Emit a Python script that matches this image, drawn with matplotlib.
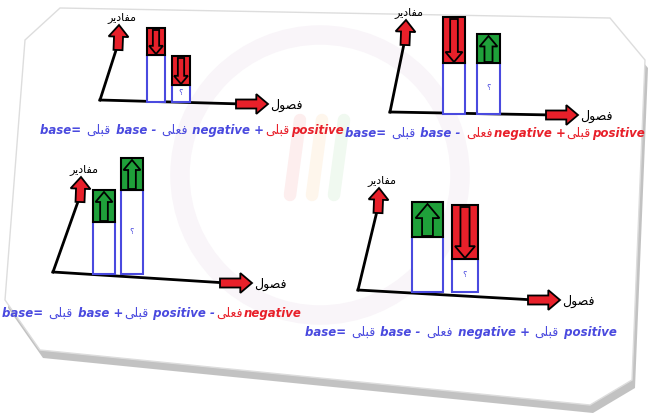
import matplotlib.pyplot as plt
from matplotlib.patches import Polygon, FancyArrow, Circle
import numpy as np

# Arabic words, shaped presentation forms in visual (left-to-right) order
MAQADIR = "\uFEAE\uFEF3\uFEA9\uFE8E\uFED4\uFEE3"   # مقادير
FOSUL = "\uFEDD\uFEEE\uFEBC\uFED3"                # فصول
QABLI = "\uFEF0\uFEE0\uFE92\uFED7"                # قبلى
FELI = "\uFEF0\uFEE0\uFECC\uFED3"                 # فعلى
AR_WORDS = {QABLI, FELI}

BLUE = "#4a4adf"
RED = "#e8202a"
GREEN = "#1fa03a"

# panel origin (x, y), y-axis top, x-axis end
origins = [(100, 100), (390, 112), (53, 272), (358, 290)]
yaxis_tops = [(118, 30), (405, 25), (80, 182), (378, 193)]
xaxis_ends = [(268, 104), (578, 115), (252, 283), (560, 300)]

# bars: left x, width, base top, change top, sign (+1 up / -1 down)
bar_left = [[147, 172], [443, 477], [93, 121], [412, 452]]
bar_width = [[18, 18], [22, 23], [22, 22], [31, 26]]
base_top = [[55, 85], [63, 63], [222, 190], [237, 259]]
change_top = [[28, 56], [17, 34], [190, 158], [202, 205]]
change_sign = [[-1, -1], [-1, 1], [1, 1], [1, -1]]
qmark_bar = [1, 1, 1, 1]

# formula lines: (text, colour) segments in visual order
formulas = [
    [("base= ", BLUE), (QABLI, BLUE), (" base - ", BLUE), (FELI, BLUE), (" negative +", BLUE),
     (QABLI, RED), ("positive", RED)],
    [("base= ", BLUE), (QABLI, BLUE), (" base - ", BLUE), (FELI, RED), ("negative +", RED),
     (QABLI, RED), ("positive", RED)],
    [("base= ", BLUE), (QABLI, BLUE), (" base +", BLUE), (QABLI, BLUE), (" positive -", BLUE),
     (FELI, RED), ("negative", RED)],
    [("base= ", BLUE), (QABLI, BLUE), (" base - ", BLUE), (FELI, BLUE), (" negative + ", BLUE),
     (QABLI, BLUE), (" positive", BLUE)],
]
formula_pos = [(40, 130), (345, 133), (2, 313), (305, 332)]

fig = plt.figure(figsize=(6.48, 4.19), dpi=100)
ax = fig.add_axes([0, 0, 1, 1])
ax.set_xlim(0, 648)
ax.set_ylim(419, 0)
ax.axis("off")

# card shadow and card
card = np.array([(60, 8), (610, 18), (645, 60), (632, 380), (590, 405), (40, 350), (5, 300), (25, 40)])
ax.add_patch(Polygon(card + [3, 8], closed=True, fc="#9a9a9a", ec="none", alpha=0.6, zorder=0))
ax.add_patch(Polygon(card, closed=True, fc="white", ec="#dddddd", lw=1, zorder=1))
# faint watermark
ax.add_patch(Circle((320, 175), 140, fc="none", ec="#f9f5f9", lw=14, zorder=1))
for i, c in enumerate(["#fdeeee", "#fef6ec", "#f0f9f0"]):
    ax.plot([290 + 22 * i, 300 + 22 * i], [195, 120], color=c, lw=9, solid_capstyle="round", zorder=1)


def fat_arrow(x0, y0, x1, y1, w=8, fc=RED, z=5):
    ax.add_patch(FancyArrow(x0, y0, x1 - x0, y1 - y0, width=w, head_width=w * 2.2,
                            head_length=w * 1.3, length_includes_head=True,
                            fc=fc, ec="black", lw=1.3, zorder=z))


for p in range(4):
    ox, oy = origins[p]
    tx, ty = yaxis_tops[p]
    ex, ey = xaxis_ends[p]
    ax.plot([ox, tx], [oy, ty + 14], color="black", lw=2, zorder=3)
    ax.plot([ox, ex - 25], [oy, ey], color="black", lw=2, zorder=3)
    fat_arrow(tx, ty + 20, tx + 1, ty - 5, w=9)
    fat_arrow(ex - 32, ey, ex, ey, w=9)
    ax.text(tx + 4, ty - 12, MAQADIR, fontsize=8, ha="center", va="center", zorder=6)
    ax.text(ex + 2, ey + 1, FOSUL, fontsize=9, ha="left", va="center", zorder=6)

    for b in range(2):
        left, w = bar_left[p][b], bar_width[p][b]
        bt, ct = base_top[p][b], change_top[p][b]
        bottom = oy + 2
        ax.bar(left, bt - bottom, width=w, bottom=bottom, align="edge",
               fc="white", ec=BLUE, lw=1.5, zorder=4)
        col = GREEN if change_sign[p][b] > 0 else RED
        ax.bar(left, ct - bt, width=w, bottom=bt, align="edge",
               fc=col, ec="black", lw=1.5, zorder=4)
        cx = left + w / 2
        if change_sign[p][b] > 0:
            fat_arrow(cx, bt - 1, cx, ct + 2, w=w * 0.35, fc=col)
        else:
            fat_arrow(cx, ct + 2, cx, bt - 1, w=w * 0.35, fc=col)
        if b == qmark_bar[p]:
            ax.text(cx, (oy + bt) / 2, "\u061F", color=BLUE, fontsize=6, ha="center", va="center", zorder=6)

fig.canvas.draw()
r = fig.canvas.get_renderer()
inv = ax.transData.inverted()
for p in range(4):
    x, y = formula_pos[p]
    for txt, col in formulas[p]:
        if txt in AR_WORDS:
            t = ax.text(x, y, txt, color=col, fontsize=9, ha="left", va="center", zorder=6)
        else:
            t = ax.text(x, y, txt, color=col, fontsize=8.5, fontweight="bold", style="italic",
                        ha="left", va="center", zorder=6)
        bb = t.get_window_extent(r)
        x = inv.transform((bb.x1, bb.y0))[0] + 1

fig.savefig("out.png", dpi=100, facecolor="white")
